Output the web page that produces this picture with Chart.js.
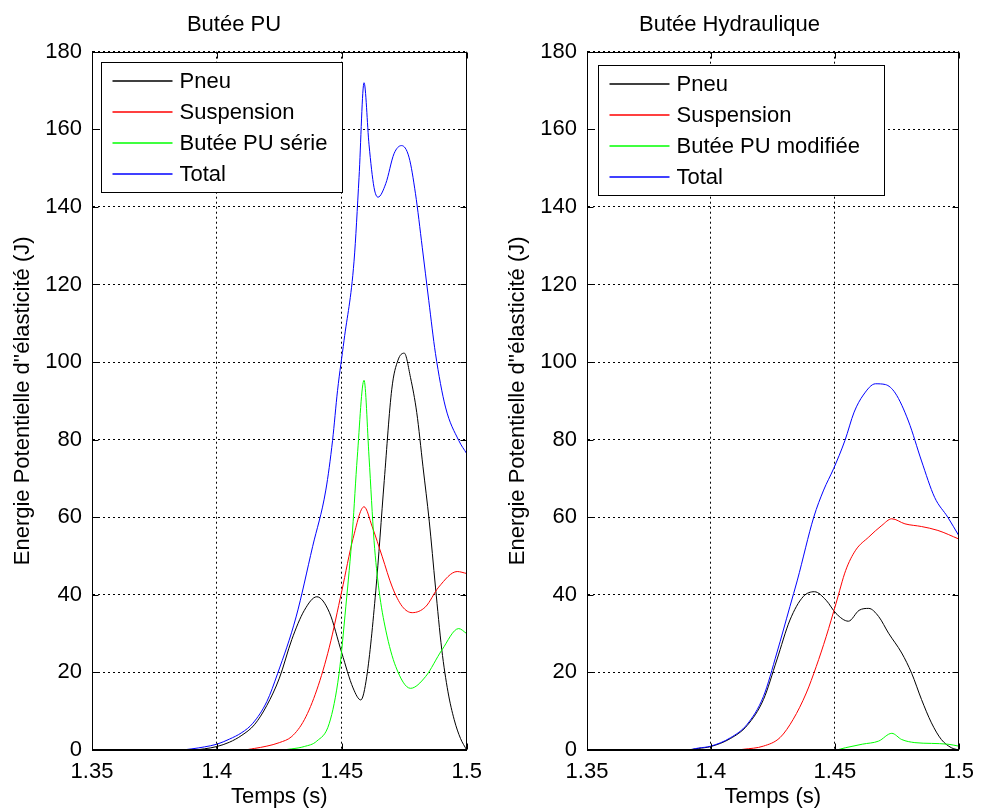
<!DOCTYPE html>
<html>
<head>
<meta charset="utf-8">
<script src="https://cdn.jsdelivr.net/npm/chart.js@4"></script>
<style>
    body { margin: 0; background: #fff; width: 983px; height: 810px; position: relative; overflow: hidden; }
    .panel { position: absolute; top: 0; height: 810px; }
    #left { left: 0; width: 491px; }
    #right { left: 495px; width: 488px; }
</style>
</head>
<body>
<div class="panel" id="left"><canvas id="chartPU"></canvas></div>
<div class="panel" id="right"><canvas id="chartHyd"></canvas></div>
<script>
// axes
const xTicks = [1.35, 1.4, 1.45, 1.5];
const xTickLabels = ['1.35', '1.4', '1.45', '1.5'];
const yTicks = [0, 20, 40, 60, 80, 100, 120, 140, 160, 180];

// Butée PU
const nomsPU = ['Pneu', 'Suspension', 'Butée PU série', 'Total'];
const tPneuPU = [1.35, 1.39, 1.395, 1.40, 1.405, 1.41, 1.415, 1.42, 1.425, 1.43, 1.435, 1.44, 1.445, 1.45, 1.4545, 1.4576, 1.46, 1.4636, 1.467, 1.47, 1.4725, 1.475, 1.4775, 1.48, 1.4825, 1.485, 1.4875, 1.49, 1.4925, 1.495, 1.4975, 1.5];
const ePneuPU = [0, 0, 0.3, 0.9, 2.0, 3.8, 6.5, 11.5, 18.5, 28.5, 36, 39.5, 35.5, 25, 16, 12.9, 19, 41, 69.5, 93, 100.5, 102.3, 96, 87, 73, 59, 42, 26, 15, 7.8, 3, 0];
const tSuspPU = [1.35, 1.41, 1.415, 1.42, 1.425, 1.43, 1.435, 1.44, 1.445, 1.45, 1.4545, 1.4589, 1.4622, 1.4662, 1.4702, 1.4742, 1.4782, 1.4835, 1.4888, 1.4962, 1.5];
const eSuspPU = [0, 0, 0.4, 1, 1.9, 3.5, 7.8, 15.5, 26.5, 41, 54.5, 62.7, 57.5, 49.8, 42, 37, 35.4, 36.9, 42, 46, 45.5];
const tButeePU = [1.35, 1.425, 1.43, 1.435, 1.44, 1.445, 1.4489, 1.4516, 1.4543, 1.4562, 1.4589, 1.4609, 1.4629, 1.4649, 1.4676, 1.4716, 1.4775, 1.4835, 1.4901, 1.4968, 1.5];
const eButeePU = [0, 0, 0.3, 0.9, 2.3, 6.9, 19.7, 36.9, 56.7, 75.5, 95.3, 75.5, 54, 41.2, 30.9, 21.5, 15.9, 18.9, 25.8, 31.3, 30];
const tTotalPU = [1.35, 1.385, 1.39, 1.395, 1.40, 1.405, 1.41, 1.4144, 1.42, 1.4243, 1.4317, 1.4383, 1.4436, 1.4463, 1.4483, 1.4509, 1.4549, 1.4569, 1.4589, 1.4609, 1.4629, 1.4645, 1.4676, 1.4709, 1.4739, 1.4769, 1.4795, 1.4822, 1.4848, 1.4875, 1.4915, 1.4968, 1.5];
const eTotalPU = [0, 0, 0.3, 0.8, 1.5, 2.8, 4.5, 6.9, 12.5, 19.7, 34.3, 52.4, 67, 79.8, 92.7, 105.6, 126, 147.6, 172, 156, 145, 142.5, 146, 153.7, 155.8, 152.8, 143.4, 129.6, 115.9, 102.2, 88.4, 79.8, 76.4];

// Butée Hydraulique
const nomsHyd = ['Pneu', 'Suspension', 'Butée PU modifiée', 'Total'];
const tPneuHyd = [1.35, 1.39, 1.395, 1.40, 1.408, 1.4146, 1.4212, 1.4266, 1.4319, 1.4372, 1.4418, 1.4465, 1.4505, 1.4555, 1.4598, 1.4637, 1.4677, 1.4717, 1.477, 1.481, 1.485, 1.489, 1.493, 1.497, 1.5];
const ePneuHyd = [0, 0, 0.4, 0.9, 3, 6.3, 13, 23.2, 33.5, 39.5, 40.8, 38.6, 35.2, 33.2, 36, 36.5, 34.4, 30.1, 25, 19.8, 13, 7, 2.7, 0.6, 0];
const tSuspHyd = [1.35, 1.41, 1.4133, 1.4212, 1.4279, 1.4332, 1.4385, 1.4425, 1.4465, 1.4505, 1.4544, 1.4584, 1.4637, 1.469, 1.473, 1.4783, 1.485, 1.4916, 1.5];
const eSuspHyd = [0, 0, 0.2, 1, 3.2, 7.9, 14.7, 21.5, 29.2, 37.8, 46.3, 51.5, 54.9, 57.9, 59.6, 58.3, 57.6, 56.6, 54.4];
const tButeeHyd = [1.35, 1.45, 1.4544, 1.4611, 1.4677, 1.473, 1.477, 1.4823, 1.489, 1.4956, 1.5];
const eButeeHyd = [0, 0, 0.6, 1.5, 2.3, 4.3, 2.7, 1.9, 1.7, 1.5, 1];
const tTotalHyd = [1.35, 1.39, 1.395, 1.40, 1.408, 1.4146, 1.4212, 1.4266, 1.4319, 1.4349, 1.4415, 1.4455, 1.4495, 1.4541, 1.4578, 1.4615, 1.4664, 1.4704, 1.4744, 1.4797, 1.485, 1.4903, 1.4956, 1.5];
const eTotalHyd = [0, 0, 0.5, 1, 3.2, 6.6, 13.8, 25, 37, 43.8, 60, 67, 72.5, 79.8, 87.1, 91.5, 94.4, 94.2, 92, 84.8, 74.5, 65.1, 60, 55.3];

const couleurs = ['rgb(0,0,0)', 'rgb(255,0,0)', 'rgb(0,255,0)', 'rgb(0,0,255)'];
const police = "'Liberation Sans', Arial, sans-serif";

// cadre, petites graduations et légende dessinés par-dessus les courbes
const cadrePlugin = {
    id: 'cadre',
    afterDatasetsDraw(chart) {
        const { ctx, chartArea: a, scales } = chart;
        const L = Math.round(a.left) + 0.5, R = Math.round(a.right) - 0.5;
        const T = Math.round(a.top) + 0.5, B = Math.round(a.bottom) - 0.5;
        ctx.save();
        ctx.strokeStyle = '#000';
        ctx.lineWidth = 1;
        ctx.setLineDash([]);
        ctx.strokeRect(L, T, R - L, B - T);
        ctx.beginPath();
        xTicks.forEach(v => {
            const x = Math.round(scales.x.getPixelForValue(v)) + 0.5;
            ctx.moveTo(x, B); ctx.lineTo(x, B - 6);
            ctx.moveTo(x, T); ctx.lineTo(x, T + 6);
        });
        yTicks.forEach(v => {
            const y = Math.round(scales.y.getPixelForValue(v)) + 0.5;
            ctx.moveTo(L, y); ctx.lineTo(L + 6, y);
            ctx.moveTo(R, y); ctx.lineTo(R - 6, y);
        });
        ctx.stroke();

        const leg = chart.options.plugins.cadre;
        const bx = Math.round(a.left + leg.dx) + 0.5, by = Math.round(a.top + leg.dy) + 0.5;
        ctx.fillStyle = '#fff';
        ctx.fillRect(bx, by, leg.w, leg.h);
        ctx.strokeStyle = '#000';
        ctx.strokeRect(bx, by, leg.w, leg.h);
        ctx.font = '22px ' + police;
        ctx.textBaseline = 'middle';
        chart.data.datasets.forEach((ds, i) => {
            const y = Math.round(by + 18 + i * 31);
            ctx.strokeStyle = couleurs[i];
            ctx.lineWidth = 1.3;
            ctx.beginPath();
            ctx.moveTo(bx + 11, y); ctx.lineTo(bx + 71, y);
            ctx.stroke();
            ctx.fillStyle = '#000';
            ctx.fillText(ds.label, bx + 78, y + 1);
        });
        ctx.restore();
    }
};

function creerGraphe(id, titre, noms, series, padDroite, legende) {
    const ctx = document.getElementById(id).getContext('2d');
    return new Chart(ctx, {
        type: 'line',
        data: {
            datasets: series.map((s, i) => ({
                label: noms[i],
                data: s[0].map((t, k) => ({ x: t, y: s[1][k] })),
                borderColor: couleurs[i],
                borderWidth: 1,
                pointRadius: 0,
                fill: false,
                cubicInterpolationMode: 'monotone',
                order: series.length - i,
            })),
        },
        options: {
            responsive: true,
            maintainAspectRatio: false,
            animation: false,
            layout: { padding: { left: 0, right: padDroite, top: 0, bottom: 0 } },
            plugins: {
                legend: { display: false },
                tooltip: { enabled: false },
                title: {
                    display: true,
                    text: titre,
                    color: '#000',
                    font: { family: police, size: 22, weight: 'normal' },
                    padding: { top: 12, bottom: 13.3 },
                },
                cadre: legende,
            },
            scales: {
                x: {
                    type: 'linear',
                    min: 1.35,
                    max: 1.5,
                    afterBuildTicks: s => { s.ticks = xTicks.map(v => ({ value: v })); },
                    afterFit: s => { s.height = 60; },
                    ticks: {
                        color: '#000',
                        padding: 9,
                        maxRotation: 0,
                        font: { family: police, size: 22 },
                        callback: (v, i) => xTickLabels[i],
                    },
                    grid: { color: '#000', lineWidth: 1, drawTicks: false },
                    border: { display: true, color: '#000', dash: [2, 3] },
                    title: {
                        display: true,
                        text: 'Temps (s)',
                        color: '#000',
                        font: { family: police, size: 22 },
                        padding: { top: 0, bottom: 0 },
                    },
                },
                y: {
                    min: 0,
                    max: 180,
                    afterBuildTicks: s => { s.ticks = yTicks.map(v => ({ value: v })); },
                    afterFit: s => { s.width = 92; },
                    ticks: {
                        color: '#000',
                        padding: 10,
                        font: { family: police, size: 22 },
                    },
                    grid: { color: '#000', lineWidth: 1, drawTicks: false },
                    border: { display: true, color: '#000', dash: [2, 3] },
                    title: {
                        display: true,
                        text: "Energie Potentielle d''élasticité (J)",
                        color: '#000',
                        font: { family: police, size: 22 },
                        padding: { top: 10, bottom: 0 },
                    },
                },
            },
        },
        plugins: [cadrePlugin],
    });
}

document.addEventListener('DOMContentLoaded', () => {
    creerGraphe('chartPU', 'Butée PU', nomsPU,
        [[tPneuPU, ePneuPU], [tSuspPU, eSuspPU], [tButeePU, eButeePU], [tTotalPU, eTotalPU]],
        23, { dx: 9, dy: 10, w: 241, h: 130 });
    creerGraphe('chartHyd', 'Butée Hydraulique', nomsHyd,
        [[tPneuHyd, ePneuHyd], [tSuspHyd, eSuspHyd], [tButeeHyd, eButeeHyd], [tTotalHyd, eTotalHyd]],
        19, { dx: 11, dy: 13, w: 286, h: 130 });
});
</script>
</body>
</html>
